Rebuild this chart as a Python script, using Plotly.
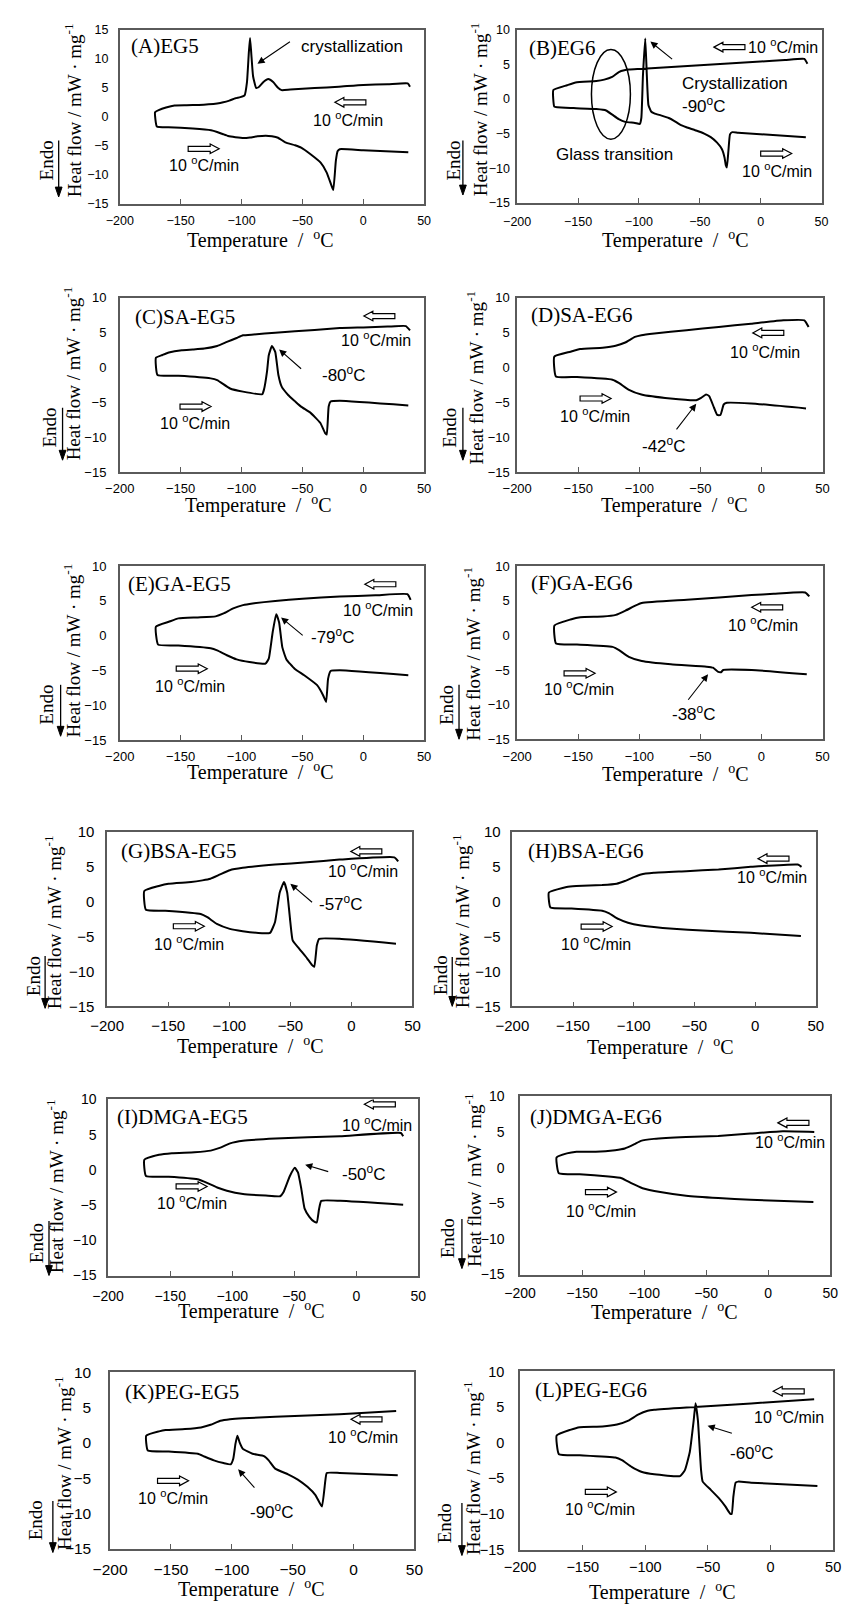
import plotly.graph_objects as go

W, H = 848, 1613

# ---------------- data (temperature in degC, heat flow in mW/mg) ----------------
a_cool_t = [38.4, 36.5, 20, 0, -20, -40, -60, -67, -70, -74, -78, -82, -86, -88, -90.5, -92, -93, -94, -95.5, -97.5, -101, -105, -110, -115, -120, -127, -135, -145, -155, -162, -168, -171]
a_cool_hf = [5.2, 5.75, 5.6, 5.5, 5.2, 4.95, 4.7, 4.6, 5.0, 6.0, 6.5, 6.0, 5.1, 5.0, 7.0, 11.0, 13.6, 11.0, 6.0, 3.7, 3.4, 3.2, 2.8, 2.5, 2.3, 2.15, 2.05, 2.0, 1.95, 1.6, 1.15, 0.8]
a_heat_t = [-169.5, -160, -140, -125, -120, -115, -111, -105, -98, -93, -87, -80, -75, -70, -64, -56, -51, -43, -35, -30, -26, -24.6, -22.5, -21, -19.3, 0, 37]
a_heat_hf = [-1.65, -1.8, -2.0, -2.3, -2.6, -3.0, -3.3, -3.5, -3.64, -3.55, -3.35, -3.24, -3.35, -3.6, -4.4, -4.9, -5.3, -6.5, -7.9, -9.6, -11.9, -12.6, -7.6, -5.9, -5.57, -5.75, -6.1]

b_cool_t = [38.4, 35.8, 20, 0, -20, -40, -60, -80, -100, -108, -112, -116.5, -122, -128.5, -135, -152, -159, -170.3]
b_cool_hf = [5.1, 5.8, 5.63, 5.41, 5.2, 4.98, 4.77, 4.55, 4.34, 4.25, 4.15, 3.9, 3.2, 2.8, 2.6, 2.4, 2.0, 1.3]
b_heat_t = [-169.5, -167, -153.6, -135, -127, -121.9, -116.6, -111.3, -103.3, -99.3, -98, -96.7, -94.8, -93.5, -92.2, -90, -87.4, -82, -75.5, -71.5, -66.2, -61, -53, -46.4, -41, -35.8, -31.8, -29.7, -28.6, -27.8, -26.5, -25.2, -23.3, -18.5, 37.1]
b_heat_hf = [-1.1, -1.2, -1.3, -1.45, -1.65, -2.26, -2.9, -3.3, -3.45, -3.6, -2.7, 3.4, 8.75, 3.4, -0.85, -1.8, -2.07, -2.36, -2.74, -3.1, -3.7, -4.07, -4.55, -5.0, -5.5, -6.3, -7.25, -8.44, -9.6, -9.87, -7.5, -5.1, -4.78, -4.87, -5.5]

c_cool_t = [38.4, 35, 20, 0, -19.3, -40, -72.3, -90, -98.8, -104, -112, -120, -130.6, -140, -149, -159.7, -165, -170.3]
c_cool_hf = [5.34, 5.96, 5.88, 5.77, 5.67, 5.4, 5.0, 4.75, 4.63, 4.25, 3.68, 3.1, 2.73, 2.6, 2.5, 2.16, 1.8, 1.4]
c_heat_t = [-169, -151.8, -125.3, -120, -109.4, -98.8, -83, -81.6, -79, -77.6, -75, -72.3, -69.7, -67, -61.7, -56.4, -51.1, -43.2, -35.2, -31.3, -30, -28.4, -26.8, -19.3, 37]
c_heat_hf = [-1.07, -1.17, -1.55, -1.8, -3.0, -3.45, -3.83, -3.2, -0.5, 1.78, 3.1, 2.25, -1.07, -2.74, -3.93, -4.78, -5.6, -6.5, -7.96, -9.4, -9.6, -5.6, -4.88, -4.78, -5.45]

d_cool_t = [38.6, 35.1, 18, -8.5, -35, -61.3, -87.7, -98.3, -103.6, -111.5, -119.4, -130, -148.5, -156.4, -169.6]
d_cool_hf = [5.83, 6.78, 6.78, 6.3, 5.83, 5.36, 4.9, 4.65, 4.4, 3.6, 3.13, 2.85, 2.66, 2.28, 1.57]
d_heat_t = [-168.3, -151, -122, -116.8, -108.9, -98.3, -74.5, -53.4, -49.4, -45.4, -42.8, -38.8, -36.2, -33.6, -30.9, -28.3, -8.5, 36.5]
d_heat_hf = [-1.27, -1.36, -1.74, -2.2, -3.16, -3.87, -4.44, -4.68, -4.35, -3.87, -4.1, -5.77, -6.8, -6.8, -5.3, -5.06, -5.15, -5.86]

e_cool_t = [38.9, 36.3, 10, -19.3, -50, -72.3, -90.9, -98.8, -106.8, -114.7, -121.3, -135.9, -151.8, -159.7, -170.3]
e_cool_hf = [5.15, 5.96, 5.8, 5.63, 5.3, 5.0, 4.63, 4.39, 3.92, 3.2, 2.78, 2.63, 2.49, 2.0, 1.3]
e_heat_t = [-168.5, -151.8, -125.3, -120, -112, -104, -93.5, -80.3, -77.6, -74.4, -71.5, -69.1, -66.5, -63.1, -56.4, -48.5, -37.9, -33.1, -30.5, -28.9, -26.8, -19.3, 37]
e_heat_hf = [-1.28, -1.4, -1.8, -2.1, -2.8, -3.4, -3.78, -4.0, -3.3, 0.5, 3.1, 1.9, -1.64, -3.4, -4.73, -5.68, -7.1, -8.5, -9.5, -6.2, -5.07, -4.97, -5.68]

f_cool_t = [39.2, 35.8, 10, -8, -61, -98, -103.3, -111.3, -119.2, -129.8, -148.3, -156.3, -169.5]
f_cool_hf = [5.62, 6.19, 6.0, 5.81, 5.14, 4.67, 4.29, 3.57, 2.95, 2.71, 2.62, 2.29, 1.43]
f_heat_t = [-168.2, -151, -121.9, -116.6, -108.6, -98, -74.2, -45, -39.7, -35.8, -33.1, -31.3, -8, 37.1]
f_heat_hf = [-1.19, -1.33, -1.67, -2.14, -3.1, -3.71, -4.19, -4.52, -4.67, -5.24, -5.33, -5.0, -5.0, -5.62]

g_cool_t = [38.3, 35.1, -9.8, -36.2, -62.6, -89, -99.6, -107.5, -115.5, -122, -131.3, -149.8, -157.7, -169.6]
g_cool_hf = [5.83, 6.4, 6.07, 5.69, 5.36, 4.89, 4.55, 3.94, 3.32, 3.09, 2.85, 2.61, 2.28, 1.57]
g_heat_t = [-168.3, -152.4, -123.4, -118, -110.2, -99.6, -89, -73.2, -66.6, -62.6, -58.7, -55.2, -52.6, -50, -48.1, -42.8, -36.2, -32.2, -30.4, -28.3, -26.4, -9.8, 36.5]
g_heat_hf = [-1.13, -1.27, -1.74, -2.2, -3.16, -3.87, -4.2, -4.49, -4.44, -2.93, 1.34, 2.85, 1.34, -2.93, -5.53, -6.71, -8.13, -9.08, -9.32, -6.24, -5.3, -5.3, -6.0]

h_cool_t = [38.3, 35.2, -3.5, -30.1, -56.7, -83.4, -94, -99.3, -107.3, -114, -126, -147.3, -155.3, -169.9]
h_cool_hf = [5.03, 5.36, 5.03, 4.65, 4.41, 4.18, 3.94, 3.6, 3.0, 2.61, 2.42, 2.28, 2.14, 1.34]
h_heat_t = [-168.6, -152.6, -126, -120.6, -112.7, -104.7, -94, -67.4, -43.4, -3.5, 37.8]
h_heat_hf = [-0.8, -0.94, -1.27, -1.6, -2.45, -3.0, -3.4, -3.87, -4.1, -4.44, -4.9]

i_cool_t = [37.8, 36, -13, -65.2, -91.3, -101.7, -109.5, -117.3, -130.4, -148.6, -159, -170.8]
i_cool_hf = [4.77, 5.23, 4.77, 4.44, 4.12, 3.75, 3.15, 2.73, 2.5, 2.36, 2.13, 1.44]
i_heat_t = [-169.5, -151.2, -127.8, -122.6, -112.1, -104.3, -91.3, -73, -61.3, -58.7, -53.5, -49.5, -47, -44.3, -41.7, -37.8, -33.9, -31.8, -30, -28.2, -13, 37.8]
i_heat_hf = [-0.87, -0.97, -1.34, -1.67, -2.5, -2.96, -3.43, -3.66, -3.75, -3.19, -0.87, 0.28, -0.37, -2.7, -5.46, -6.67, -7.36, -7.45, -5.56, -4.4, -4.4, -4.95]

j_cool_t = [37.1, 11.7, -14.3, -40.3, -66.2, -92.2, -102.6, -107.8, -115.6, -123.4, -139, -154.5, -162.3, -170.6]
j_cool_hf = [5.01, 5.1, 4.78, 4.45, 4.31, 4.04, 3.76, 3.29, 2.69, 2.46, 2.23, 2.23, 2.0, 1.44]
j_heat_t = [-168.8, -152, -128.6, -118.2, -110.4, -101.3, -87, -66.2, -40.3, -14.3, 36.4]
j_heat_hf = [-0.79, -0.93, -1.25, -1.48, -2.18, -2.88, -3.43, -3.94, -4.27, -4.5, -4.83]

k_cool_t = [35, -11.4, -64.4, -90.9, -101.5, -109.4, -117.4, -125.3, -138.5, -154.4, -159.7, -170.3]
k_cool_hf = [4.54, 4.07, 3.7, 3.51, 3.37, 3.14, 2.57, 2.2, 1.97, 1.83, 1.64, 1.03]
k_heat_t = [-169, -151.8, -127.9, -122.6, -114.7, -106.8, -100.9, -98.8, -97, -95.4, -93.6, -90.9, -83, -73.6, -69.7, -64.4, -53.8, -45.8, -37.9, -31.3, -26, -23.3, -22, -11.4, 36.3]
k_heat_hf = [-1.08, -1.22, -1.54, -1.92, -2.48, -2.86, -3.04, -2.25, -0.14, 1.03, 0.09, -0.84, -1.54, -1.87, -2.48, -3.65, -4.45, -5.2, -6.23, -7.4, -9.04, -5.52, -4.26, -4.26, -4.59]

l_cool_t = [34.8, -15.5, -67.1, -92.9, -98.1, -105.8, -113.5, -122.6, -134.2, -152.3, -160, -170.8]
l_cool_hf = [6.11, 5.51, 4.95, 4.63, 4.49, 3.94, 3.1, 2.55, 2.27, 2.18, 1.81, 1.02]
l_heat_t = [-169, -152.3, -123.9, -118.7, -111, -103.2, -92.9, -72.3, -68.4, -64.5, -61.4, -59.9, -58, -55.5, -54.2, -47.7, -41.3, -36.1, -32.3, -31, -29.7, -27.9, -25.8, -15.5, 37.4]
l_heat_hf = [-1.62, -1.76, -2.08, -2.45, -3.38, -4.07, -4.44, -4.68, -3.84, -1.3, 3.1, 5.55, 3.1, -3.84, -5.46, -6.62, -7.78, -8.94, -9.95, -10.0, -7.55, -5.6, -5.46, -5.6, -6.06]

panel_ids = ["A", "B", "C", "D", "E", "F", "G", "H", "I", "J", "K", "L"]
panel_names = ["(A)EG5", "(B)EG6", "(C)SA-EG5", "(D)SA-EG6", "(E)GA-EG5", "(F)GA-EG6",
               "(G)BSA-EG5", "(H)BSA-EG6", "(I)DMGA-EG5", "(J)DMGA-EG6", "(K)PEG-EG5", "(L)PEG-EG6"]
x_ticks = [-200, -150, -100, -50, 0, 50]
y_ticks_a = [-15, -10, -5, 0, 5, 10, 15]
y_ticks = [-15, -10, -5, 0, 5, 10]
rate_text = "10 <sup>o</sup>C/min"
x_title = "Temperature  /  <sup>o</sup>C"
y_title = "Heat flow / mW · mg<sup>-1</sup>"

curves = {
    "A": (a_cool_t, a_cool_hf, a_heat_t, a_heat_hf), "B": (b_cool_t, b_cool_hf, b_heat_t, b_heat_hf),
    "C": (c_cool_t, c_cool_hf, c_heat_t, c_heat_hf), "D": (d_cool_t, d_cool_hf, d_heat_t, d_heat_hf),
    "E": (e_cool_t, e_cool_hf, e_heat_t, e_heat_hf), "F": (f_cool_t, f_cool_hf, f_heat_t, f_heat_hf),
    "G": (g_cool_t, g_cool_hf, g_heat_t, g_heat_hf), "H": (h_cool_t, h_cool_hf, h_heat_t, h_heat_hf),
    "I": (i_cool_t, i_cool_hf, i_heat_t, i_heat_hf), "J": (j_cool_t, j_cool_hf, j_heat_t, j_heat_hf),
    "K": (k_cool_t, k_cool_hf, k_heat_t, k_heat_hf), "L": (l_cool_t, l_cool_hf, l_heat_t, l_heat_hf),
}

# ---------------- layout geometry (pixels) ----------------
boxes = {  # left, top, right, bottom
    "A": (106, 21, 420, 197), "B": (516, 21, 830, 196),
    "C": (106, 292, 420, 468), "D": (516, 292, 831, 468),
    "E": (106, 563, 420, 739), "F": (516, 563, 831, 738),
    "G": (93, 832, 408, 1008), "H": (511, 832, 824, 1008),
    "I": (94, 1102, 414, 1280), "J": (519, 1099, 839, 1279),
    "K": (96, 1378, 410, 1556), "L": (519, 1377, 842, 1557),
}
tick_fs = {"A": 12.5, "B": 12.5, "C": 13, "D": 13, "E": 13, "F": 13, "G": 15, "H": 15, "I": 14, "J": 14, "K": 15.5, "L": 14.5}
y_gap = {"A": 7, "B": 3, "C": 9, "D": 3, "E": 9, "F": 3, "G": 8, "H": 7, "I": 7, "J": 11, "K": 14, "L": 11}
x_lab_off = {"A": 15, "B": 16, "C": 15, "D": 15, "E": 14, "F": 15, "G": 17, "H": 17, "I": 18, "J": 16, "K": 18, "L": 15}
ytitle_pos = {"A": (61, 102), "B": (480, 101), "C": (60, 368), "D": (476, 372), "E": (60, 648), "F": (473, 652),
              "G": (40, 923), "H": (461, 922), "I": (43, 1190), "J": (473, 1184), "K": (50, 1470), "L": (473, 1475)}
endo_pos = {"A": (33, 153), "B": (453, 153), "C": (37, 423), "D": (449, 423), "E": (34, 703), "F": (446, 703),
            "G": (20, 977), "H": (440, 977), "I": (24, 1247), "J": (448, 1242), "K": (22, 1527), "L": (444, 1530)}
endo_line = {"A": (43, 133, 190), "B": (460, 133, 188), "C": (47, 403, 456), "D": (460, 403, 456),
             "E": (45, 683, 735), "F": (456, 683, 738), "G": (29, 957, 1010), "H": (449, 958, 1008),
             "I": (33, 1225, 1280), "J": (459, 1223, 1273), "K": (37, 1508, 1560), "L": (459, 1510, 1563)}
xtitle_pos = {"A": (251, 237), "B": (679, 237), "C": (249, 505), "D": (678, 505), "E": (251, 775), "F": (679, 777),
              "G": (241, 1052), "H": (664, 1053), "I": (242, 1319), "J": (668, 1320), "K": (242, 1600), "L": (666, 1603)}
ROT_SHIFT_TITLE = -3   # small correction for rotated annotation placement
ROT_SHIFT_ENDO = -3
XT_SHIFT = -4

# annotation placement in data coords of each panel
specs = {
    "A": dict(label=(-192.8, 12.2), cool=(-23.3, 2.5), cool_txt=(-12.7, -0.34), heat=(-143.8, -5.5), heat_txt=(-130.6, -8.2),
              notes=[("crystallization", -52.4, 12.16, "left")], ptr=[((-86.9, 9.15), (-59, 13.1))]),
    "B": dict(label=(-192, 7.34), cool=(-38.4, 7.5), cool_txt=(-11.9, 7.7, "left"), heat=(0, -7.87), heat_txt=(13, -10.2),
              notes=[("Crystallization", -66, 2.25, "left"), ("-90<sup>o</sup>C", -66, -0.85, "left"),
                     ("Glass transition", -120, -7.97, "center")], ptr=[((-90.6, 8.3), (-71.5, 5.58))]),
    "C": dict(label=(-188.9, 7.24), cool=(0.5, 7.4), cool_txt=(10.3, 4.06), heat=(-150.5, -5.6), heat_txt=(-138, -7.8),
              notes=[("-80<sup>o</sup>C", -16.3, -0.93, "center")], ptr=[((-69.1, 2.6), (-49.8, -0.36))]),
    "D": dict(label=(-190, 7.5), cool=(-7.1, 4.98), cool_txt=(2.6, 2.38), heat=(-148.5, -4.44), heat_txt=(-136, -6.86),
              notes=[("-42<sup>o</sup>C", -79.8, -11.07, "center")], ptr=[((-53.4, -5.2), (-70.5, -9.08))]),
    "E": dict(label=(-194.7, 7.39), cool=(1.3, 7.39), cool_txt=(11.9, 3.9), heat=(-153.6, -4.73), heat_txt=(-142, -7.1),
              notes=[("-79<sup>o</sup>C", -25.2, 0.02, "center")], ptr=[((-67.5, 2.63), (-48.5, -0.12))]),
    "F": dict(label=(-190.7, 7.6), cool=(-8, 4.05), cool_txt=(1.6, 1.57), heat=(-161.6, -5.48), heat_txt=(-149.7, -7.6),
              notes=[("-38<sup>o</sup>C", -55.6, -11.2, "center")], ptr=[((-43.7, -5.62), (-60.9, -9.52))]),
    "G": dict(label=(-190, 7.35), cool=(-0.5, 7.25), cool_txt=(9.2, 4.65), heat=(-145.8, -3.5), heat_txt=(-132.6, -5.86),
              notes=[("-57<sup>o</sup>C", -9.3, -0.09, "center")], ptr=[((-50, 2.61), (-31, -0.23))]),
    "H": dict(label=(-188.5, 7.35), cool=(2.4, 6.21), cool_txt=(13.8, 3.7), heat=(-143.3, -3.54), heat_txt=(-130.8, -5.9),
              notes=[], ptr=[]),
    "I": dict(label=(-194.8, 7.45), cool=(6.5, 9.3), cool_txt=(16.4, 6.44), heat=(-145.2, -2.36), heat_txt=(-132.5, -4.58),
              notes=[("-50<sup>o</sup>C", 5.7, -0.42, "center")], ptr=[((-41.2, 0.74), (-21.4, -0.32))]),
    "J": dict(label=(-194, 7.1), cool=(7.8, 6.29), cool_txt=(17.4, 3.78), heat=(-147.3, -3.43), heat_txt=(-135, -5.89),
              notes=[], ptr=[]),
    "K": dict(label=(-189.4, 7.2), cool=(-2.1, 3.35), cool_txt=(7.7, 0.93), heat=(-161, -5.38), heat_txt=(-148.6, -7.63),
              notes=[("-90<sup>o</sup>C", -67.8, -9.62, "center")], ptr=[((-94.8, -3.75), (-80.3, -6.55))]),
    "L": dict(label=(-189.7, 7.36), cool=(2.1, 7.22), cool_txt=(15, 3.75), heat=(-147.9, -6.9), heat_txt=(-136.3, -9.2),
              notes=[("-60<sup>o</sup>C", -15, -1.34, "center")], ptr=[((-50.3, 2.4), (-29.7, 1.25))]),
}

SANS = "Liberation Sans, Arial, sans-serif"
SERIF = "Liberation Serif, Times New Roman, serif"
FRAME = "#5a5a5a"
ARROW_R = "M0,-2.5 L22,-2.5 L22,-4.8 L31,0 L22,4.8 L22,2.5 L0,2.5 Z"
ARROW_L = "M0,0 L9,-4.8 L9,-2.5 L31,-2.5 L31,2.5 L9,2.5 L9,4.8 Z"


def pxx(px):
    return px / W


def pxy(py):
    return 1 - py / H


fig = go.Figure()
annotations = []
shapes = []
layout = {}

for n, pid in enumerate(panel_ids, start=1):
    sfx = "" if n == 1 else str(n)
    xr, yr = "x" + sfx, "y" + sfx
    l, t, r, b = boxes[pid]
    fs = tick_fs[pid]
    ct, ch, ht, hh = curves[pid]
    fig.add_trace(go.Scatter(x=list(ct) + list(ht), y=list(ch) + list(hh), mode="lines",
                             line=dict(color="black", width=2, shape="spline", smoothing=0.4),
                             xaxis=xr, yaxis=yr, showlegend=False, hoverinfo="skip"))
    yrange = [-15, 15] if pid == "A" else [-15, 10]
    layout["xaxis" + sfx] = dict(domain=[pxx(l), pxx(r)], range=[-200, 50], anchor=yr, tickvals=x_ticks,
                                 ticks="inside", ticklen=5, tickwidth=1.2, tickcolor=FRAME,
                                 showline=True, mirror=True, linecolor=FRAME, linewidth=1.5,
                                 showgrid=False, zeroline=False,
                                 ticklabelstandoff=max(0, round(x_lab_off[pid] - 3 - 0.6 * fs)),
                                 tickfont=dict(family=SANS, size=fs, color="black"))
    layout["yaxis" + sfx] = dict(domain=[pxy(b), pxy(t)], range=yrange, anchor=xr,
                                 tickvals=y_ticks_a if pid == "A" else y_ticks, ticks="",
                                 showline=True, mirror=True, linecolor=FRAME, linewidth=1.5,
                                 showgrid=False, zeroline=False, ticklabelstandoff=y_gap[pid],
                                 tickfont=dict(family=SANS, size=fs, color="black"))

    sp = specs[pid]
    annotations.append(dict(text=panel_names[n - 1], x=sp["label"][0], y=sp["label"][1], xref=xr, yref=yr,
                            xanchor="left", yanchor="middle", showarrow=False,
                            font=dict(family=SERIF, size=21, color="black")))
    shapes.append(dict(type="path", xref=xr, yref=yr, xsizemode="pixel", ysizemode="pixel",
                       xanchor=sp["cool"][0], yanchor=sp["cool"][1], path=ARROW_L,
                       line=dict(color="black", width=1.2), fillcolor="white", layer="above"))
    shapes.append(dict(type="path", xref=xr, yref=yr, xsizemode="pixel", ysizemode="pixel",
                       xanchor=sp["heat"][0], yanchor=sp["heat"][1], path=ARROW_R,
                       line=dict(color="black", width=1.2), fillcolor="white", layer="above"))
    ctx = sp["cool_txt"]
    annotations.append(dict(text=rate_text, x=ctx[0], y=ctx[1], xref=xr, yref=yr,
                            xanchor=ctx[2] if len(ctx) > 2 else "center", yanchor="middle", showarrow=False,
                            font=dict(family=SANS, size=16, color="black")))
    annotations.append(dict(text=rate_text, x=sp["heat_txt"][0], y=sp["heat_txt"][1], xref=xr, yref=yr,
                            xanchor="center", yanchor="middle", showarrow=False,
                            font=dict(family=SANS, size=16, color="black")))
    for txt, nx, ny, anc in sp["notes"]:
        annotations.append(dict(text=txt, x=nx, y=ny, xref=xr, yref=yr, xanchor=anc, yanchor="middle",
                                showarrow=False, font=dict(family=SANS, size=17, color="black")))
    for (tx, ty), (sx, sy) in sp["ptr"]:
        annotations.append(dict(text="", x=tx, y=ty, ax=sx, ay=sy, xref=xr, yref=yr, axref=xr, ayref=yr,
                                showarrow=True, arrowhead=2, arrowsize=1.3, arrowwidth=1.1, arrowcolor="black"))
    xt = xtitle_pos[pid]
    annotations.append(dict(text=x_title, x=pxx(xt[0]), y=pxy(xt[1] + XT_SHIFT), xref="paper", yref="paper",
                            xanchor="center", yanchor="middle", showarrow=False,
                            font=dict(family=SERIF, size=20, color="black")))
    yt = ytitle_pos[pid]
    annotations.append(dict(text=y_title, x=pxx(yt[0] + ROT_SHIFT_TITLE), y=pxy(yt[1]), xref="paper", yref="paper",
                            xanchor="center", yanchor="middle", textangle=-90, showarrow=False,
                            font=dict(family=SERIF, size=19, color="black")))
    ep = endo_pos[pid]
    annotations.append(dict(text="Endo", x=pxx(ep[0] + ROT_SHIFT_ENDO), y=pxy(ep[1]), xref="paper", yref="paper",
                            xanchor="center", yanchor="middle", textangle=-90, showarrow=False,
                            font=dict(family=SERIF, size=19, color="black")))
    # "Endo" bar with downward arrowhead (paper coordinates)
    ex, ey0, ey1 = endo_line[pid]
    shapes.append(dict(type="line", xref="paper", yref="paper", x0=pxx(ex), x1=pxx(ex),
                       y0=pxy(ey0), y1=pxy(ey1 - 8), line=dict(color="black", width=1.3)))
    shapes.append(dict(type="path", xref="paper", yref="paper",
                       path=f"M{pxx(ex - 3.5)},{pxy(ey1 - 10)} L{pxx(ex + 3.5)},{pxy(ey1 - 10)} L{pxx(ex)},{pxy(ey1)} Z",
                       line=dict(color="black", width=1), fillcolor="black"))

# glass transition ellipse in panel B
shapes.append(dict(type="circle", xref="x2", yref="y2", x0=-139, x1=-107, y0=-5.8, y1=7.15,
                   line=dict(color="black", width=1.5), fillcolor="rgba(0,0,0,0)"))

fig.update_layout(width=W, height=H, margin=dict(l=0, r=0, t=0, b=0), paper_bgcolor="white",
                  plot_bgcolor="white", showlegend=False, annotations=annotations, shapes=shapes, **layout)

fig.write_html("out.html", config={"displayModeBar": False},
               post_script="document.body.style.margin='0';")
